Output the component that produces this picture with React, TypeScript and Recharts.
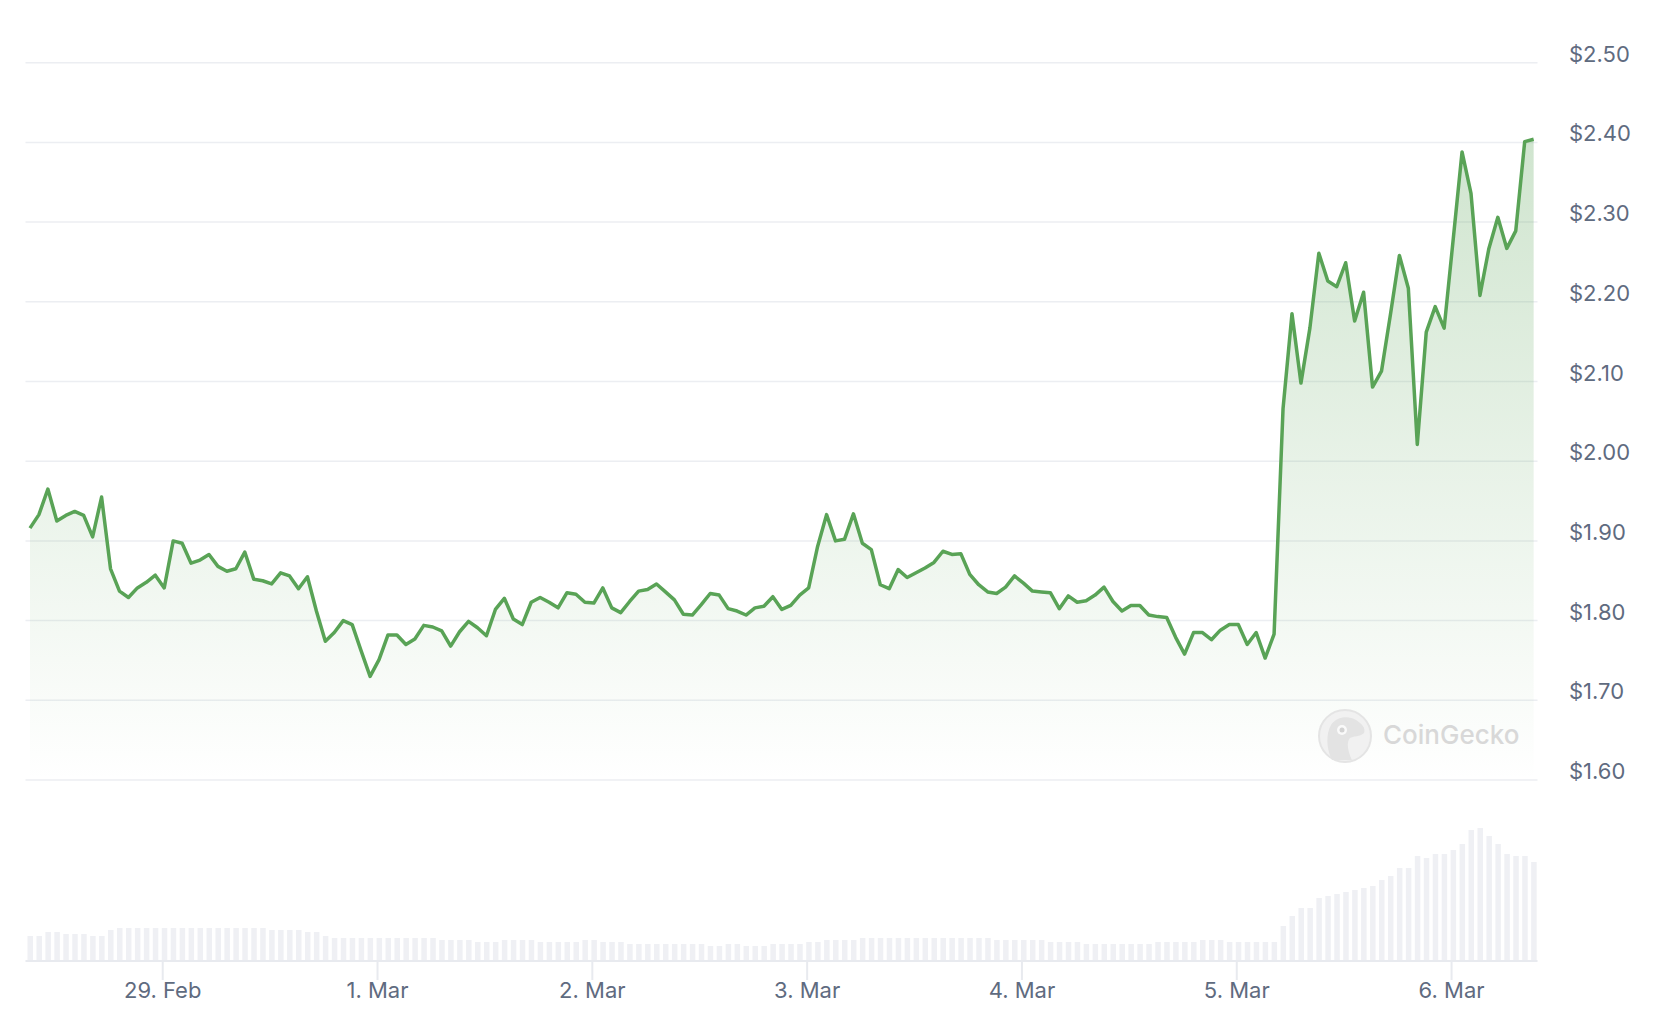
import { AreaChart, Area, BarChart, Bar, XAxis, YAxis, CartesianGrid } from 'recharts'

// hourly samples, first one at 28 Feb ~09:10 (hours counted from 29 Feb 00:00)
const START_HOUR = -14.83

const prices = [
  1.916, 1.933, 1.965, 1.925, 1.932, 1.937, 1.932, 1.905, 1.955, 1.865,
  1.837, 1.829, 1.841, 1.848, 1.857, 1.841, 1.900, 1.897, 1.872, 1.876,
  1.883, 1.868, 1.862, 1.865, 1.886, 1.852, 1.850, 1.846, 1.860, 1.856,
  1.840, 1.855, 1.812, 1.774, 1.785, 1.800, 1.795, 1.762, 1.730, 1.751,
  1.782, 1.782, 1.770, 1.777, 1.794, 1.792, 1.787, 1.768, 1.786, 1.799,
  1.791, 1.781, 1.814, 1.828, 1.802, 1.795, 1.823, 1.829, 1.823, 1.816,
  1.835, 1.833, 1.823, 1.822, 1.841, 1.816, 1.810, 1.824, 1.837, 1.839,
  1.846, 1.836, 1.826, 1.808, 1.807, 1.820, 1.834, 1.832, 1.815, 1.812,
  1.807, 1.816, 1.818, 1.830, 1.814, 1.819, 1.832, 1.841, 1.893, 1.933,
  1.900, 1.902, 1.934, 1.897, 1.889, 1.845, 1.840, 1.864, 1.854, 1.860,
  1.866, 1.873, 1.887, 1.883, 1.884, 1.858, 1.845, 1.836, 1.834, 1.842,
  1.856, 1.847, 1.837, 1.836, 1.835, 1.815, 1.831, 1.823, 1.825, 1.832,
  1.842, 1.824, 1.812, 1.819, 1.819, 1.807, 1.805, 1.804, 1.779, 1.758,
  1.785, 1.785, 1.776, 1.788, 1.795, 1.795, 1.770, 1.785, 1.753, 1.783,
  2.066, 2.185, 2.098, 2.167, 2.261, 2.226, 2.219, 2.249, 2.176, 2.212,
  2.093, 2.113, 2.184, 2.258, 2.217, 2.021, 2.162, 2.194, 2.167, 2.277,
  2.388, 2.336, 2.208, 2.267, 2.306, 2.267, 2.289, 2.401, 2.404,
]

// volume, relative units
const volumes = [
  25, 25, 29, 29, 27, 27, 27, 25, 25, 31,
  33, 33, 33, 33, 33, 33, 33, 33, 33, 33,
  33, 33, 33, 33, 33, 33, 33, 31, 31, 31,
  31, 29, 29, 25, 23, 23, 23, 23, 23, 23,
  23, 23, 23, 23, 23, 23, 21, 21, 21, 21,
  19, 19, 19, 21, 21, 21, 21, 19, 19, 19,
  19, 19, 21, 21, 19, 19, 19, 17, 17, 17,
  17, 17, 17, 17, 17, 17, 15, 15, 17, 17,
  15, 15, 15, 17, 17, 17, 17, 19, 19, 21,
  21, 21, 21, 23, 23, 23, 23, 23, 23, 23,
  23, 23, 23, 23, 23, 23, 23, 23, 21, 21,
  21, 21, 21, 21, 19, 19, 19, 19, 17, 17,
  17, 17, 17, 17, 17, 17, 19, 19, 19, 19,
  19, 21, 21, 21, 19, 19, 19, 19, 19, 19,
  35, 45, 53, 53, 63, 65, 67, 69, 71, 73,
  75, 81, 85, 93, 93, 105, 103, 107, 107, 111,
  117, 131, 133, 125, 117, 107, 105, 105, 99,
]

const dayTicks = [0, 24, 48, 72, 96, 120, 144]
const dayLabels = ['29. Feb', '1. Mar', '2. Mar', '3. Mar', '4. Mar', '5. Mar', '6. Mar']
const priceTicks = [1.6, 1.7, 1.8, 1.9, 2.0, 2.1, 2.2, 2.3, 2.4, 2.5]

const data = prices.map((p, i) => ({ t: START_HOUR + i, price: p, volume: volumes[i] }))

const X_DOMAIN = [-15.33, 153.6]
const GREEN = '#59a356'
const LABEL = '#5f6b80'

function PriceTick(props: any) {
  const { y, payload } = props
  return (
    <text x={1569} y={y - 9} textAnchor="start" dominantBaseline="central" fill={LABEL} fontSize={22}>
      {'$' + payload.value.toFixed(2)}
    </text>
  )
}

function DayTick(props: any) {
  const { x, payload } = props
  return (
    <text x={x} y={990} textAnchor="middle" dominantBaseline="central" fill={LABEL} fontSize={22}>
      {dayLabels[dayTicks.indexOf(payload.value)]}
    </text>
  )
}

function Watermark() {
  return (
    <svg width={1666} height={1034} style={{ position: 'absolute', left: 0, top: 0, pointerEvents: 'none' }}>
      <circle cx={1345} cy={736} r={26} fill="#f1f1f1" stroke="#e4e4e4" strokeWidth={2} />
      <path
        d="M1332 760 C1326 748 1326 734 1331 725 C1336 717 1348 715 1356 720 C1362 724 1366 728 1364 733 C1360 737 1353 736 1350 738 C1346 742 1348 752 1352 760 Z"
        fill="#e3e3e3"
      />
      <circle cx={1342} cy={730} r={5} fill="#fafafa" />
      <circle cx={1342} cy={730} r={2.5} fill="#d2d2d2" />
      <text x={1383} y={734} dominantBaseline="central" fontSize={26} fontWeight={500} fill="#d8d8d8">
        CoinGecko
      </text>
    </svg>
  )
}

export default function App() {
  return (
    <div style={{ position: 'absolute', left: 0, top: 0, width: 1666, height: 1034, background: '#fff', fontFamily: 'Inter, sans-serif' }}>
      <div style={{ position: 'absolute', left: 0, top: 0 }}>
        <BarChart width={1666} height={1034} data={data} margin={{ top: 828, right: 128.5, bottom: 0, left: 25.5 }}>
          <XAxis
            type="number"
            dataKey="t"
            domain={X_DOMAIN}
            allowDataOverflow
            ticks={dayTicks}
            interval={0}
            height={73}
            axisLine={{ stroke: '#e8eaef', strokeWidth: 2 }}
            tickLine={{ stroke: '#e8eaef', strokeWidth: 2 }}
            tickSize={19}
            tick={(p: any) => <DayTick {...p} />}
          />
          <YAxis hide domain={[0, 133]} />
          <Bar dataKey="volume" fill="#eff0f4" barSize={5.5} isAnimationActive={false} />
        </BarChart>
      </div>
      <div style={{ position: 'absolute', left: 0, top: 0 }}>
        <AreaChart width={1666} height={800} data={data} margin={{ top: 62.7, right: 0, bottom: 20, left: 25.5 }}>
          <defs>
            <linearGradient id="priceFill" gradientUnits="userSpaceOnUse" x1="0" y1="62.7" x2="0" y2="780">
              <stop offset="0" stopColor={GREEN} stopOpacity={0.32} />
              <stop offset="1" stopColor={GREEN} stopOpacity={0} />
            </linearGradient>
          </defs>
          <CartesianGrid vertical={false} stroke="#eceef2" strokeWidth={1.5} />
          <XAxis type="number" dataKey="t" domain={X_DOMAIN} allowDataOverflow hide />
          <YAxis
            orientation="right"
            width={128.5}
            domain={[1.6, 2.5]}
            ticks={priceTicks}
            interval={0}
            axisLine={false}
            tickLine={false}
            tick={(p: any) => <PriceTick {...p} />}
          />
          <Area
            type="linear"
            dataKey="price"
            stroke={GREEN}
            strokeWidth={3.5}
            strokeLinejoin="round"
            fill="url(#priceFill)"
            fillOpacity={1}
            dot={false}
            activeDot={false}
            isAnimationActive={false}
          />
        </AreaChart>
      </div>
      <Watermark />
    </div>
  )
}
